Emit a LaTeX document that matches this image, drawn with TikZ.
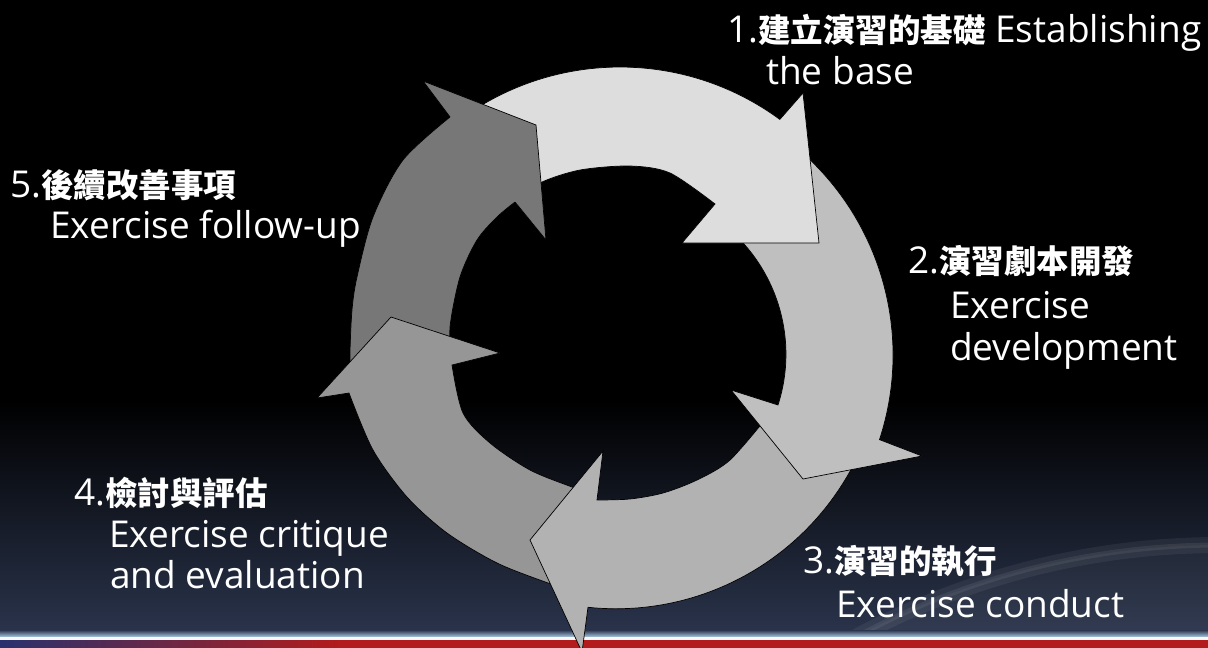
\documentclass[tikz,border=0pt]{standalone}
\usepackage{fontspec}
\setmainfont{Open Sans}
\newfontfamily\cjkfont{Noto Sans CJK TC}
\newcommand\zh[1]{{\cjkfont\bfseries\fontsize{32.5}{42}\selectfont #1}}
\newcommand\latsize{\fontsize{37}{42}\selectfont}
\definecolor{aone}{HTML}{DDDDDD}
\definecolor{atwo}{HTML}{BFBFBF}
\definecolor{athree}{HTML}{B2B2B2}
\definecolor{afour}{HTML}{969696}
\definecolor{afive}{HTML}{777777}
\definecolor{bgbottom}{RGB}{42,52,76}
\definecolor{barred}{RGB}{178,28,28}
\definecolor{barlight}{RGB}{170,200,225}
\tikzset{
  cyc/.style={draw=black, line width=0.7pt, line join=miter},
  lbl/.style={text=white, inner sep=0pt, anchor=base west, font=\latsize}
}
\begin{document}
\begin{tikzpicture}[x=1pt,y=-1pt]
\useasboundingbox (0,0) rectangle (1208,648);
\clip (0,0) rectangle (1208,648);
% background
\fill[black] (0,0) rectangle (1208,648);
\shade[top color=black, bottom color=bgbottom] (0,400) rectangle (1208,636);
\begin{scope}
  \clip (0,400) rectangle (1208,636);
  \fill[white, opacity=0.04] (1220,1310) circle (765);
  \draw[white, opacity=0.06, line width=16pt] (1220,1310) circle (765);
  \draw[white, opacity=0.07, line width=5pt] (1220,1310) circle (765);
\end{scope}
% bottom bar
\shade[top color=bgbottom, bottom color=barlight] (0,630) rectangle (1208,637);
\fill[white!90!barlight] (0,637) rectangle (1208,640);
\fill[barred] (0,640) rectangle (1208,648);
\shade[left color={rgb,255:red,40;green,50;blue,110}, right color=barred] (0,640) rectangle (340,648);

% arrow 5 (dark, left)
\path[cyc, fill=afive] plot[smooth] coordinates {(351,375) (350,353) (352,310) (357,277) (373,217) (403,160) (450,117)}
  -- (423,81) -- (536,125) -- (546,240) -- (515,202)
  -- plot[smooth] coordinates {(515,202) (497,217) (477,240) (460,277) (450,327) (452,360)} -- cycle;
% arrow 4 (bottom left)
\path[cyc, fill=afour] plot[smooth] coordinates {(572,591) (548,583) (497,563) (447,533) (407,497) (373,450) (349,393)}
  -- (317,398) -- (391,317) -- (500,353) -- (452,365)
  -- plot[smooth] coordinates {(452,365) (463,413) (490,443) (530,470) (572,487) (590,493)} -- cycle;
% arrow 3 (bottom)
\path[cyc, fill=athree] (855,462) arc[start angle=26.9, end angle=96, radius=268]
  -- (582,652) -- (530,540) -- (603,451) -- (597,500)
  -- plot[smooth] coordinates {(597,500) (630,499) (663,493) (697,480) (730,460) (768,416)} -- cycle;
% arrow 2 (right)
\path[cyc, fill=atwo] (787,140) arc[start angle=-52.5, end angle=18.2, radius=271]
  -- (922,456) -- (803,479) -- (731,390) -- (778,405)
  arc[start angle=17.8, end angle=-52.6, radius=166] -- cycle;
% arrow 1 (top)
\path[cyc, fill=aone] (470.2,112.4) arc[start angle=-123.7, end angle=-53.7, radius=270]
  -- (803,93) -- (819,243) -- (682,243) -- (715,204)
  -- plot[smooth] coordinates {(715,204) (670,173) (630,166) (580,170) (542,182) (525,196)} -- cycle;
% head of arrow 5 over the tail of arrow 1
\fill[afive] (450,117) -- (423,81) -- (536,125) -- (546,240) -- (515,202) -- cycle;
\draw[cyc] (450,117) -- (423,81) -- (536,125) -- (546,240) -- (515,202);

% labels
\node[lbl] (l1a) at (727,42) {1.\zh{建立演習的基礎} Establishing};
\node[lbl] (l1b) at (766,84) {the base};
\node[lbl] (l2a) at (908,273) {2.\zh{演習劇本開發}};
\node[lbl] (l2b) at (950,318) {Exercise};
\node[lbl] (l2c) at (950,360) {development};
\node[lbl] (l3a) at (803,573) {3.\zh{演習的執行}};
\node[lbl] (l3b) at (836,617) {Exercise conduct};
\node[lbl] (l4a) at (74,505) {4.\zh{檢討與評估}};
\node[lbl] (l4b) at (109,547) {Exercise critique};
\node[lbl] (l4c) at (110,588) {and evaluation};
\node[lbl] (l5a) at (10,197) {5.\zh{後續改善事項}};
\node[lbl] (l5b) at (50,238) {Exercise follow-up};
\end{tikzpicture}
\end{document}
